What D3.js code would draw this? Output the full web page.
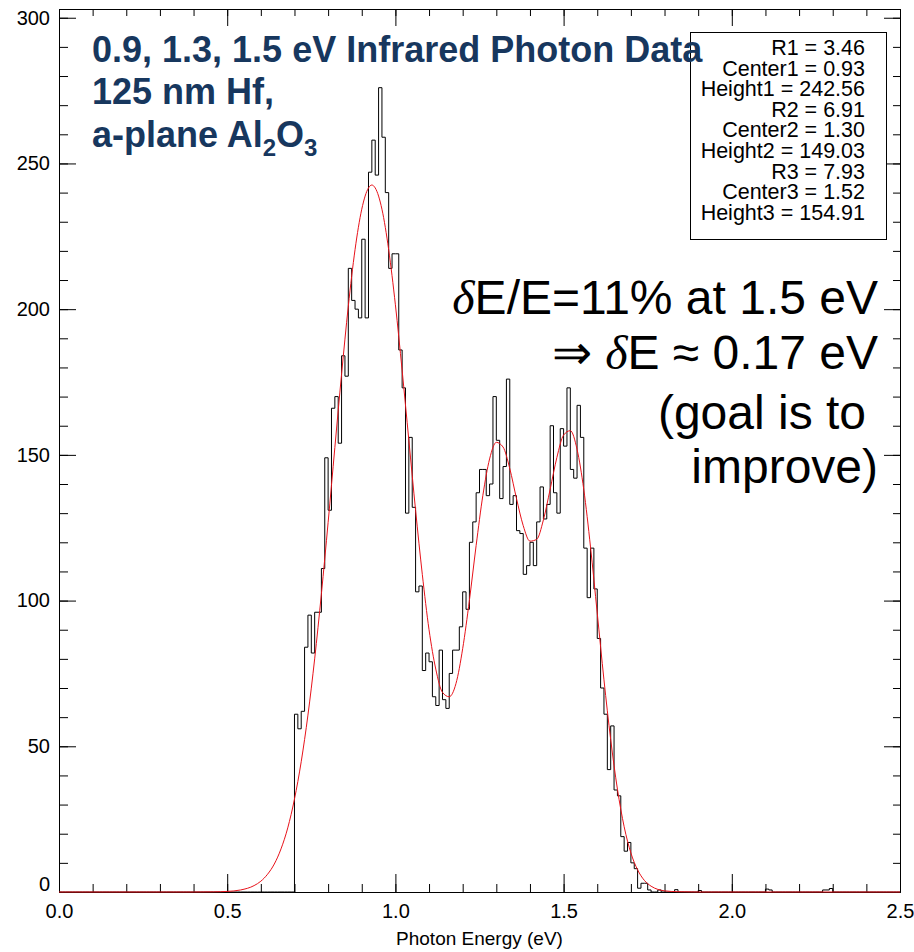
<!DOCTYPE html>
<html>
<head>
<meta charset="utf-8">
<script src="https://cdn.jsdelivr.net/npm/d3@7/dist/d3.min.js"></script>
<style>
  body { margin: 0; background: #ffffff; }
  svg { font-family: "Liberation Sans", Arial, sans-serif; }
</style>
</head>
<body>
<div id="chart"></div>
<script>
const FRAME_WIDTH = 914;
const FRAME_HEIGHT = 952;
const PLOT = {left: 59, right: 900, top: 9, bottom: 892};

// histogram: counts per 0.01 eV bin, starting at 0.70 eV
const BIN_WIDTH = 0.01;
const COUNT_START = 0.70;
const COUNTS = [
  61, 56, 62, 84, 95, 82, 96, 96, 111, 149,      // 0.70 - 0.79
  131, 166, 170, 154, 184, 177, 214, 203, 200, 197, // 0.80 - 0.89
  224, 197, 247, 258, 246, 276, 259, 240, 214, 219, // 0.90 - 0.99
  219, 186, 173, 130, 156, 132, 103, 105, 76, 82,   // 1.00 - 1.09
  79, 67, 64, 83, 66, 63, 75, 83, 83, 91,           // 1.10 - 1.19
  103, 97, 120, 127, 137, 145, 145, 136, 140, 170,  // 1.20 - 1.29
  155, 135, 146, 176, 133, 136, 124, 123, 109, 112, // 1.30 - 1.39
  120, 112, 127, 139, 128, 133, 160, 137, 130, 159, // 1.40 - 1.49
  153, 173, 145, 142, 167, 156, 118, 101, 118, 104, // 1.50 - 1.59
  87, 70, 61, 42, 57, 35, 33, 19, 14, 17,           // 1.60 - 1.69
  10, 8, 1.3, 3, 3, 0.7, 0, 0, 0.7, 0,              // 1.70 - 1.79
  0, 0, 0, 0.8                                      // 1.80 - 1.83
];
// a few isolated counts further out
const TAIL_ENERGY = [1.90, 2.10, 2.11, 2.27, 2.28, 2.29];
const TAIL_COUNTS = [0.5, 1, 0.7, 0.7, 0.7, 1.2];

// fitted curve (three gaussians)
const FIT_ENERGY = [0.00, 0.40, 0.46, 0.50, 0.54, 0.58, 0.60, 0.62, 0.64, 0.66, 0.68,
  0.70, 0.72, 0.74, 0.76, 0.78, 0.80, 0.82, 0.84, 0.86, 0.88, 0.90, 0.92, 0.93, 0.94,
  0.96, 0.98, 1.00, 1.02, 1.04, 1.06, 1.08, 1.10, 1.12, 1.14, 1.16, 1.18, 1.20, 1.22,
  1.24, 1.26, 1.28, 1.30, 1.32, 1.34, 1.36, 1.38, 1.40, 1.42, 1.44, 1.46, 1.48, 1.50,
  1.52, 1.54, 1.56, 1.58, 1.60, 1.62, 1.64, 1.66, 1.68, 1.70, 1.72, 1.74, 1.76, 1.78,
  1.80, 1.84, 1.90, 2.50];
const FIT_VALUE = [0, 0, 0.05, 0.2, 0.7, 2.2, 3.7, 6.1, 9.6, 14.8, 22.0,
  31.9, 44.7, 60.7, 80.0, 102.3, 126.8, 152.5, 177.7, 201.0, 220.4, 234.3, 241.6, 242.6, 241.6,
  234.3, 220.4, 201.5, 179.0, 155.0, 131.0, 109.0, 90.0, 76.5, 68.5, 67.0, 71.5, 83.5, 100.1,
  118.9, 136.1, 148.6, 154.3, 152.7, 145.3, 135.0, 125.7, 120.4, 121.0, 127.7, 138.2, 149.1, 156.8,
  158.3, 151.9, 138.1, 118.4, 95.7, 72.8, 52.3, 35.3, 22.4, 13.4, 7.6, 4.0, 2.0, 0.9,
  0.4, 0.1, 0, 0];

const FIT_LABELS = ["R1 = 3.46", "Center1 = 0.93", "Height1 = 242.56",
                    "R2 = 6.91", "Center2 = 1.30", "Height2 = 149.03",
                    "R3 = 7.93", "Center3 = 1.52", "Height3 = 154.91"];

const X_MAJOR = [0.0, 0.5, 1.0, 1.5, 2.0, 2.5];
const X_MINOR = d3.range(0, 26).map(i => i / 10);
const Y_MAJOR = [0, 50, 100, 150, 200, 250, 300];
const Y_MINOR = d3.range(0, 31).map(i => i * 10);

const FRAME = d3.select("#chart")
                .append("svg")
                  .attr("width", FRAME_WIDTH)
                  .attr("height", FRAME_HEIGHT);

const X_SCALE = d3.scaleLinear()
                  .domain([0, 2.5])
                  .range([PLOT.left, PLOT.right]);

const Y_SCALE = d3.scaleLinear()
                  .domain([0, 303])
                  .range([PLOT.bottom, PLOT.top]);

// build the full binned histogram 0 .. 2.5 eV
const NBINS = Math.round(2.5 / BIN_WIDTH);
const bins = d3.range(NBINS).map(i => ({e: i * BIN_WIDTH, v: 0}));
const startIdx = Math.round(COUNT_START / BIN_WIDTH);
COUNTS.forEach((c, i) => { bins[startIdx + i].v = c; });
TAIL_ENERGY.forEach((e, i) => { bins[Math.round(e / BIN_WIDTH)].v = TAIL_COUNTS[i]; });
bins.push({e: 2.5, v: bins[NBINS - 1].v});

// axes
function styleAxis(g) {
  g.selectAll("path").attr("stroke", "#000").attr("stroke-width", 1);
  g.selectAll("line").attr("stroke", "#000").attr("stroke-width", 1);
  g.selectAll("text").attr("fill", "#000");
}

FRAME.append("g")
     .attr("transform", "translate(0," + PLOT.bottom + ")")
     .call(d3.axisBottom(X_SCALE).tickValues(X_MINOR).tickSizeInner(-8).tickSizeOuter(0).tickFormat(""))
     .call(styleAxis);
FRAME.append("g")
     .attr("transform", "translate(0," + PLOT.bottom + ")")
     .call(d3.axisBottom(X_SCALE).tickValues(X_MAJOR).tickSizeInner(-18).tickSizeOuter(0)
             .tickPadding(12).tickFormat(d3.format(".1f")))
     .attr("font-size", "20px")
     .attr("font-family", "Liberation Sans, Arial, sans-serif")
     .call(styleAxis);

FRAME.append("g")
     .attr("transform", "translate(0," + PLOT.top + ")")
     .call(d3.axisTop(X_SCALE).tickValues(X_MINOR).tickSizeInner(-7).tickSizeOuter(0).tickFormat(""))
     .call(styleAxis);
FRAME.append("g")
     .attr("transform", "translate(0," + PLOT.top + ")")
     .call(d3.axisTop(X_SCALE).tickValues(X_MAJOR).tickSizeInner(-17).tickSizeOuter(0).tickFormat(""))
     .call(styleAxis);

FRAME.append("g")
     .attr("transform", "translate(" + PLOT.left + ",0)")
     .call(d3.axisLeft(Y_SCALE).tickValues(Y_MINOR).tickSizeInner(-9).tickSizeOuter(0).tickFormat(""))
     .call(styleAxis);
const yAxis = FRAME.append("g")
     .attr("transform", "translate(" + PLOT.left + ",0)")
     .call(d3.axisLeft(Y_SCALE).tickValues(Y_MAJOR).tickSizeInner(-17).tickSizeOuter(0).tickPadding(9))
     .attr("font-size", "20px")
     .attr("font-family", "Liberation Sans, Arial, sans-serif")
     .call(styleAxis);
yAxis.selectAll(".tick text").filter(d => d === 0).attr("dy", "-0.1em");

FRAME.append("g")
     .attr("transform", "translate(" + PLOT.right + ",0)")
     .call(d3.axisRight(Y_SCALE).tickValues(Y_MINOR).tickSizeInner(-7).tickSizeOuter(0).tickFormat(""))
     .call(styleAxis);
FRAME.append("g")
     .attr("transform", "translate(" + PLOT.right + ",0)")
     .call(d3.axisRight(Y_SCALE).tickValues(Y_MAJOR).tickSizeInner(-16).tickSizeOuter(0).tickFormat(""))
     .call(styleAxis);

FRAME.append("text")
     .attr("x", (PLOT.left + PLOT.right) / 2)
     .attr("y", 945)
     .attr("text-anchor", "middle")
     .attr("font-size", "19px")
     .text("Photon Energy (eV)");

// histogram
const stepLine = d3.line()
                   .x(d => X_SCALE(d.e))
                   .y(d => Y_SCALE(d.v))
                   .curve(d3.curveStepAfter);

FRAME.append("path")
     .datum(bins)
     .attr("d", stepLine)
     .attr("fill", "none")
     .attr("stroke", "#000")
     .attr("stroke-width", 1);

// fit
const fitLine = d3.line()
                  .x((d, i) => X_SCALE(FIT_ENERGY[i]))
                  .y(d => Y_SCALE(d))
                  .curve(d3.curveMonotoneX);

FRAME.append("path")
     .datum(FIT_VALUE)
     .attr("d", fitLine)
     .attr("fill", "none")
     .attr("stroke", "#e8121a")
     .attr("stroke-width", 1);

// fit parameter box
FRAME.append("rect")
     .attr("x", 690.5).attr("y", 32.5)
     .attr("width", 196).attr("height", 207)
     .attr("fill", "#fff")
     .attr("stroke", "#000")
     .attr("stroke-width", 1);

FRAME.selectAll(".fitlabel")
     .data(FIT_LABELS)
     .enter()
     .append("text")
       .attr("class", "fitlabel")
       .attr("x", 865)
       .attr("y", (d, i) => 55 + i * 20.6)
       .attr("text-anchor", "end")
       .attr("font-size", "21.5px")
       .text(d => d);

// title
const NAVY = "#17375e";
const title = FRAME.append("g")
                   .attr("font-weight", "bold")
                   .attr("font-size", "36px")
                   .attr("fill", NAVY);
title.append("text").attr("x", 92).attr("y", 62).text("0.9, 1.3, 1.5 eV Infrared Photon Data");
title.append("text").attr("x", 92).attr("y", 104).text("125 nm Hf,");
const t3 = title.append("text").attr("x", 92).attr("y", 147);
t3.append("tspan").text("a-plane Al");
t3.append("tspan").attr("font-size", "24px").attr("dy", 9).text("2");
t3.append("tspan").attr("dy", -9).text("O");
t3.append("tspan").attr("font-size", "24px").attr("dy", 9).text("3");

// resolution note
const note = FRAME.append("g")
                  .attr("font-size", "48px")
                  .attr("fill", "#000")
                  .attr("text-anchor", "end");
const n1 = note.append("text").attr("x", 878).attr("y", 314);
n1.append("tspan").attr("font-family", "Liberation Serif, serif").attr("font-style", "italic").text("\u03b4");
n1.append("tspan").text("E/E=11% at 1.5 eV");
const n2 = note.append("text").attr("x", 878).attr("y", 369);
n2.append("tspan").text("\u21d2 ");
n2.append("tspan").attr("font-family", "Liberation Serif, serif").attr("font-style", "italic").text("\u03b4");
n2.append("tspan").text("E \u2248 0.17 eV");
note.append("text").attr("x", 866).attr("y", 429).text("(goal is to");
note.append("text").attr("x", 878).attr("y", 483).text("improve)");
</script>
</body>
</html>
